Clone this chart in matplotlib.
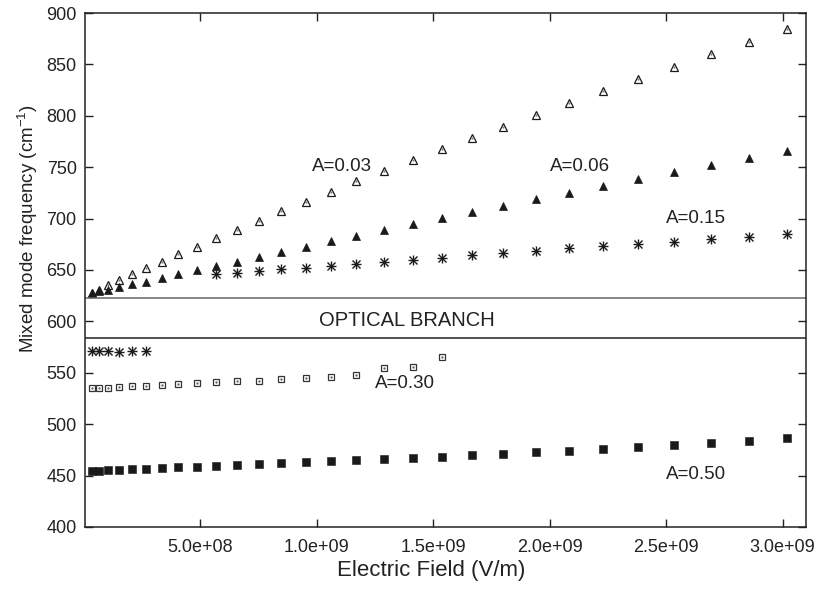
import numpy as np
import matplotlib
matplotlib.use("Agg")
import matplotlib.pyplot as plt
from matplotlib.ticker import FormatStrFormatter

plt.rcParams["font.family"] = ["Liberation Sans", "DejaVu Sans"]
plt.rcParams["mathtext.fontset"] = "custom"
plt.rcParams["mathtext.rm"] = "Liberation Sans"
plt.rcParams["mathtext.it"] = "Liberation Sans"

# electric field grid (V/m)
field = np.array([0.034, 0.065, 0.105, 0.152, 0.208, 0.267, 0.334, 0.406, 0.485,
                  0.567, 0.656, 0.751, 0.846, 0.952, 1.060, 1.168, 1.288, 1.412,
                  1.536, 1.666, 1.799, 1.940, 2.081, 2.228, 2.377, 2.532, 2.691,
                  2.854, 3.017]) * 1e9

# mixed mode frequency (cm^-1)
a003 = [627.6, 630.5, 635.4, 640.3, 645.8, 651.7, 658.1, 665.6, 672.7, 680.8,
        688.9, 697.7, 707.4, 715.9, 725.9, 736.3, 746.3, 757.0, 767.4, 778.1,
        789.4, 800.8, 812.2, 824.1, 835.8, 847.8, 859.8, 871.5, 884.1]
a006 = [627.3, 629.6, 630.5, 633.2, 636.1, 638.6, 641.9, 646.1, 650.0, 654.2,
        658.1, 662.9, 667.5, 672.7, 677.9, 683.2, 688.9, 694.4, 700.3, 706.4,
        712.3, 718.8, 725.2, 731.7, 738.2, 745.0, 751.8, 758.7, 765.8]
a015_up = [645.8, 647.4, 649.0, 650.7, 652.2, 654.2, 655.8, 657.5, 659.7, 662.0,
           664.3, 666.2, 668.5, 671.1, 673.1, 675.3, 677.2, 679.9, 682.4, 685.0]
a015_low = [571.2, 571.2, 571.2, 570.0, 571.2, 571.2]
a030 = [534.9, 534.9, 535.5, 536.2, 536.9, 537.5, 538.1, 538.8, 539.8, 540.8,
        541.7, 542.3, 543.9, 544.9, 546.2, 547.9, 554.9, 555.9, 565.7]
a050 = [454.8, 454.8, 455.4, 455.7, 456.1, 456.1, 457.4, 458.4, 458.4, 459.3,
        460.3, 461.5, 462.5, 463.5, 464.5, 465.5, 466.2, 467.4, 468.4, 470.3,
        471.3, 473.0, 474.2, 475.9, 478.1, 480.1, 482.1, 484.0, 486.1]

# optical branch edges
branch = [623.0, 583.6]

fig = plt.figure(figsize=(8.21, 5.89), dpi=100)
ax = fig.add_axes([0.1035, 0.1053, 0.8782, 0.8726])

k = "#1a1a1a"
# A=0.03 open triangles
ax.plot(field, a003, ls="none", marker="^", ms=5.2, mfc="white", mec=k, mew=0.9)
ax.plot(field, a003, ls="none", marker=".", ms=1.2, color="#777777")
# A=0.06 filled triangles
ax.plot(field, a006, ls="none", marker="^", ms=5.2, mfc=k, mec=k, mew=0.5)
# A=0.15 asterisks
f_up = field[9:]
f_low = field[:6]
for fx, fy in [(f_up, a015_up), (f_low, a015_low)]:
    ax.plot(fx, fy, ls="none", marker="+", ms=7.5, mec=k, mew=1.0)
    ax.plot(fx, fy, ls="none", marker="x", ms=5.5, mec=k, mew=1.0)
# A=0.30 open squares
f30 = field[:len(a030)]
ax.plot(f30, a030, ls="none", marker="s", ms=4.8, mfc="white", mec="#333333", mew=0.9)
ax.plot(f30, a030, ls="none", marker=".", ms=1.2, color="#555555")
# A=0.50 filled squares
ax.plot(field, a050, ls="none", marker="s", ms=5.2, mfc=k, mec=k, mew=0.4)

for yb, c in zip(branch, ["#666666", "#222222"]):
    ax.axhline(yb, color=c, lw=1.1)

ax.text(1.388e9, 600.4, "OPTICAL BRANCH", ha="center", va="center", fontsize=14.5, color="#222222")

fs = 13.5
ax.text(0.979e9, 750.5, "A=0.03", ha="left", va="center", fontsize=fs, color="#222222")
ax.text(2.002e9, 750.5, "A=0.06", ha="left", va="center", fontsize=fs, color="#222222")
ax.text(2.50e9, 700.3, "A=0.15", ha="left", va="center", fontsize=fs, color="#222222")
ax.text(1.251e9, 539.8, "A=0.30", ha="left", va="center", fontsize=fs, color="#222222")
ax.text(2.50e9, 450.6, "A=0.50", ha="left", va="center", fontsize=fs, color="#222222")

ax.set_xlim(0.005e9, 3.1e9)
ax.set_ylim(400, 900)
ax.set_xticks(np.arange(0.5e9, 3.01e9, 0.5e9))
ax.set_yticks(np.arange(400, 901, 50))
ax.xaxis.set_major_formatter(FormatStrFormatter("%.1e"))
ax.tick_params(direction="in", length=6, width=1, top=True, right=True,
               labelsize=13, colors="#222222", pad=6)
ax.tick_params(axis="x", pad=9)
for s in ax.spines.values():
    s.set_color("#222222")
    s.set_linewidth(1.1)

ax.set_xlabel("Electric Field (V/m)", fontsize=16, color="#222222")
ax.xaxis.set_label_coords(0.4806, -0.064)
ax.set_ylabel("Mixed mode frequency (cm$^{-1}$)", fontsize=13.5, color="#222222")
ax.yaxis.set_label_coords(-0.062, 0.58)

fig.savefig("out.png", dpi=100)
